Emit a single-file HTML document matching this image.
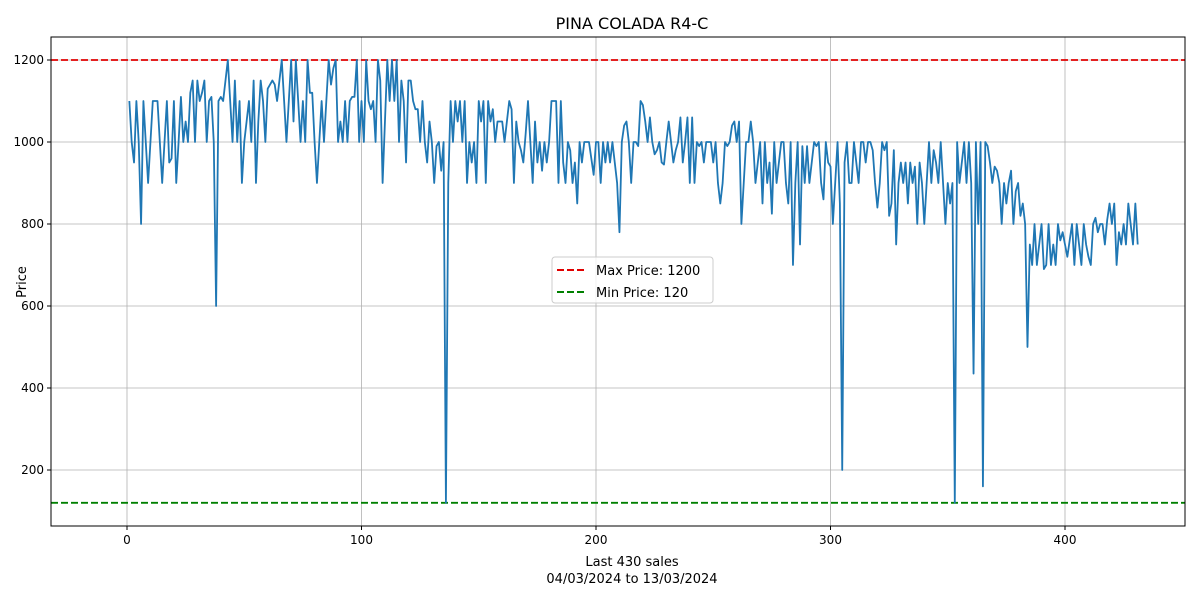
<!DOCTYPE html>
<html><head><meta charset="utf-8"><style>
body{margin:0;background:#fff;}
svg text{font-family:"DejaVu Sans","Liberation Sans",sans-serif;fill:#000;}
</style></head><body>
<svg id="chart" width="1200" height="600" xmlns="http://www.w3.org/2000/svg">
<rect x="0" y="0" width="1200" height="600" fill="#fff"/>
<text x="632" y="29" font-size="16" text-anchor="middle">PINA COLADA R4-C</text>
<g id="grid"></g>
<g id="refs"></g>
<g id="series"></g>
<rect x="51" y="37" width="1134" height="489" fill="none" stroke="#000" stroke-width="1"/>
<g id="ticks"></g>
<text x="632" y="566" font-size="13" text-anchor="middle">Last 430 sales</text>
<text x="632" y="583" font-size="13" text-anchor="middle">04/03/2024 to 13/03/2024</text>
<text x="26" y="282" font-size="13" text-anchor="middle" transform="rotate(-90 26 282)">Price</text>
<g>
<rect x="552" y="257" width="161" height="46" rx="3" fill="#fff" fill-opacity="0.8" stroke="#ccc"/>
<line x1="557" y1="270" x2="587" y2="270" stroke="#e00000" stroke-width="2" stroke-dasharray="7,3"/>
<text x="596" y="275" font-size="13">Max Price: 1200</text>
<line x1="557" y1="292" x2="587" y2="292" stroke="#008000" stroke-width="2" stroke-dasharray="7,3"/>
<text x="596" y="297" font-size="13">Min Price: 120</text>
</g>
</svg>
<script>
const prices = [1100,1000,950,1100,1000,800,1100,1000,900,1000,1100,1100,1100,1000,900,1000,1100,950,960,1100,900,1000,1110,1000,1050,1000,1120,1150,1000,1150,1100,1120,1150,1000,1100,1110,1000,600,1100,1110,1100,1150,1200,1100,1000,1150,1000,1100,900,1000,1050,1100,1000,1150,900,1050,1150,1100,1000,1130,1140,1150,1140,1100,1150,1200,1100,1000,1100,1200,1050,1200,1100,1000,1100,1000,1200,1120,1120,1000,900,1000,1100,1000,1100,1200,1140,1180,1200,1000,1050,1000,1100,1000,1100,1110,1110,1200,1000,1100,
1000,1200,1100,1080,1100,1000,1200,1150,900,1050,1200,1100,1200,1100,1200,1000,1150,1100,950,1150,1150,1100,1080,1080,1000,1100,1000,950,1050,1000,900,990,1000,930,1000,120,900,1100,1000,1100,1050,1100,1000,1100,900,1000,950,1000,900,1100,1050,1100,900,1100,1050,1080,1000,1050,1050,1050,1000,1050,1100,1080,900,1050,1000,980,950,1020,1100,1000,900,1050,950,1000,930,1000,950,1000,1100,1100,1100,900,1100,950,900,1000,980,900,950,850,1000,950,1000,1000,1000,960,920,1000,
1000,900,1000,950,1000,950,1000,950,900,780,1000,1040,1050,1000,900,1000,1000,990,1100,1090,1050,1000,1060,1000,970,980,1000,950,945,1000,1050,1000,950,980,1000,1060,950,1000,1060,900,1060,900,1000,990,1000,950,1000,1000,1000,950,1000,900,850,900,1000,990,1000,1040,1050,1000,1050,800,900,1000,1000,1050,1000,900,950,1000,850,1000,900,950,825,1000,900,950,1000,1000,900,850,1000,700,900,1000,750,990,900,990,900,950,1000,990,1000,900,860,1000,950,940,
800,900,1000,850,200,950,1000,900,900,1000,950,900,1000,1000,950,1000,1000,980,900,840,900,1000,980,1000,820,850,980,750,900,950,900,950,850,950,900,940,800,950,900,800,900,1000,900,980,950,900,1000,900,800,900,850,900,120,1000,900,950,1000,900,1000,900,435,1000,800,1000,160,1000,990,950,900,940,930,900,800,900,850,900,930,800,880,900,820,850,800,500,750,700,800,700,750,800,690,700,800,700,750,700,800,760,780,750,720,760,800,700,800,750,700,800,750,720,700,800,815,780,800,800,750,810,850,800,850,700,780,750,800,750,850,800,750,850,750];
const xTicks = [0,100,200,300,400];
const yTicks = [200,400,600,800,1000,1200];
const maxPrice = 1200;
const minPrice = 120;

const NS = 'http://www.w3.org/2000/svg';
const X = v => 127 + v * 2.345;
const Y = v => 552 - v * 0.41;
const L = 51, R = 1185, T = 37, B = 526;
function mk(tag, attrs, parent){const e=document.createElementNS(NS,tag);for(const k in attrs)e.setAttribute(k,attrs[k]);parent.appendChild(e);return e;}
const grid=document.getElementById('grid'), ticks=document.getElementById('ticks');
xTicks.forEach(t=>{
  const g=mk('line',{x1:X(t),x2:X(t),y1:T,y2:B,stroke:'#b0b0b0','stroke-width':0.8},grid);
  
  
  mk('line',{x1:X(t),x2:X(t),y1:B,y2:B+4,stroke:'#000'},ticks);
  const tx=mk('text',{x:X(t),y:B+18,'font-size':12,'text-anchor':'middle'},ticks);
  tx.textContent=t;
  
  
});
yTicks.forEach(t=>{
  const g=mk('line',{x1:L,x2:R,y1:Y(t),y2:Y(t),stroke:'#b0b0b0','stroke-width':0.8},grid);
  
  
  mk('line',{x1:L-4,x2:L,y1:Y(t),y2:Y(t),stroke:'#000'},ticks);
  const tx=mk('text',{x:L-7,y:Y(t)+4,'font-size':12,'text-anchor':'end'},ticks);
  tx.textContent=t;
  
  
});
const refs=document.getElementById('refs');
const mx=mk('line',{x1:L,x2:R,y1:Y(maxPrice),y2:Y(maxPrice),stroke:'#e00000','stroke-width':1.8,'stroke-dasharray':'7,3'},refs);


const mn=mk('line',{x1:L,x2:R,y1:Y(minPrice),y2:Y(minPrice),stroke:'#008000','stroke-width':1.8,'stroke-dasharray':'7,3'},refs);


const pts=prices.map((p,i)=>X(i+1).toFixed(2)+','+Y(p).toFixed(2)).join(' ');
const pl=mk('polyline',{points:pts,fill:'none',stroke:'#1f77b4','stroke-width':1.8,'stroke-linejoin':'round'},document.getElementById('series'));


</script>
</body></html>
